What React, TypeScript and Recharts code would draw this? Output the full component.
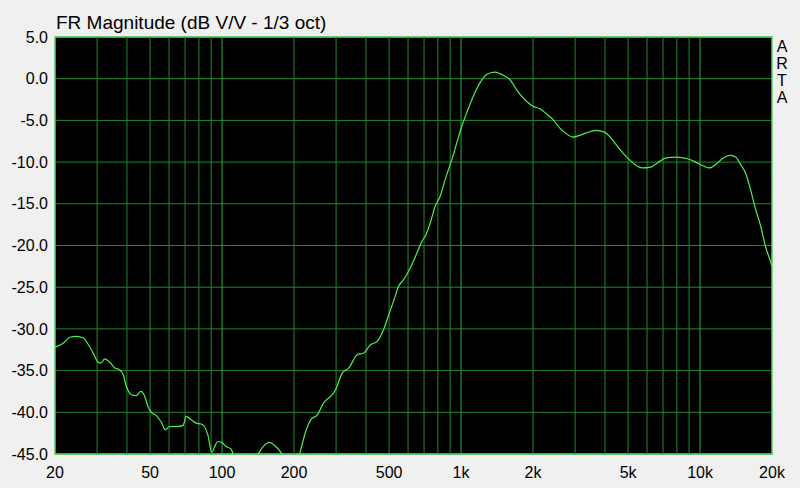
import React from 'react';
import { LineChart, Line, XAxis, YAxis, CartesianGrid, ReferenceLine, ReferenceArea } from 'recharts';

const freqs: number[] = [
  20, 21.7, 23.1, 24.6, 26.3, 27.6, 28.9, 30.3, 31.1, 32.3, 33.9, 35.6, 37.3, 38.6, 39.8,
  41.8, 43.8, 45.7, 47.5, 49.0, 50.6, 53.1, 55.7, 57.9, 60.3, 64.3, 68.6, 70.8, 74.3, 77.9,
  81.7, 84.4, 87.2, 90.6, 92.9, 95.9, 99.7, 103.9, 109, 112, 122, 135, 143, 150, 157.4,
  167.9, 176.2, 182, 195, 208, 212, 223.9, 234.9, 250.4, 266.8, 284.6, 298.5, 318.3, 339,
  367.6, 391.7, 417.6, 445.5, 475, 500, 525.8, 548, 574.9, 613, 653.7, 686, 707.9, 743,
  779.4, 817.6, 857.7, 914.9, 959.6, 1007, 1056, 1125, 1200, 1279, 1386, 1525, 1600, 1706,
  1878, 2001, 2134, 2276, 2427, 2585, 2756, 2938, 3133, 3340, 3675, 3981, 4176, 4454, 4750,
  5061, 5397, 5751, 6232, 6637, 7194, 7918, 8855, 9600, 10223, 10901, 11627, 12388, 13428,
  14093, 14778, 15508, 16263, 17061, 17906, 18778, 19708, 20000,
];

const magnitudeDb: number[] = [
  -32.2, -31.7, -31.0, -30.9, -31.1, -31.9, -32.9, -34.0, -34.1, -33.6, -34.0, -34.7, -34.9, -35.5, -36.9,
  -37.9, -38.0, -37.5, -38.1, -39.3, -40.0, -40.4, -41.2, -42.1, -41.7, -41.7, -41.6, -40.5, -40.9, -41.3,
  -41.4, -41.7, -42.7, -44.8, -44.2, -43.5, -43.6, -44.1, -44.4, -45.2, -46.5, -46.0, -44.8, -44.0, -43.6,
  -44.1, -44.8, -45.5, -46.5, -45.6, -44.8, -42.3, -40.9, -40.3, -38.8, -38.1, -37.3, -35.3, -34.7,
  -33.1, -32.9, -31.9, -31.5, -30.0, -28.2, -26.4, -24.9, -24.1, -22.7, -20.9, -19.5, -18.9, -17.3,
  -15.3, -14.1, -12.1, -9.7, -7.7, -5.7, -4.1, -2.1, -0.5, 0.5, 0.8, 0.3, -0.1, -1.3,
  -2.7, -3.3, -3.6, -4.2, -4.9, -5.9, -6.6, -7.0, -6.8, -6.5, -6.2, -6.4, -6.9, -7.9, -8.9,
  -9.7, -10.4, -10.7, -10.6, -10.1, -9.5, -9.4, -9.6, -10.0, -10.4, -10.7, -10.3, -9.6, -9.2,
  -9.4, -10.3, -11.3, -13.3, -15.6, -17.6, -20.1, -21.9, -22.5,
];

const xTicks: number[] = [20, 50, 100, 200, 500, 1000, 2000, 5000, 10000, 20000];
const yTicks: number[] = [-45, -40, -35, -30, -25, -20, -15, -10, -5, 0, 5];
const gridFreqs: number[] = [
  30, 40, 50, 60, 70, 80, 90, 100,
  200, 300, 400, 500, 600, 700, 800, 900, 1000,
  2000, 3000, 4000, 5000, 6000, 7000, 8000, 9000, 10000,
];
const decadeFreqs: number[] = [100, 1000, 10000];

const data = freqs.map((f, i) => ({ f, db: magnitudeDb[i] }));

const FONT = '"Liberation Sans", Arial, sans-serif';
const GRID = '#1f8a2a';
const GRID_MAJOR = '#2fa83a';

const fmtX = (v: number) => (v >= 1000 ? `${v / 1000}k` : `${v}`);
const fmtY = (v: number) => v.toFixed(1);

export default function App() {
  return (
    <div style={{ position: 'absolute', left: 0, top: 0, width: 800, height: 488, background: '#f0f0f0', fontFamily: FONT }}>
      <div style={{ position: 'absolute', left: 56, top: 13, fontSize: 19, lineHeight: '19px', color: '#000', whiteSpace: 'nowrap' }}>
        FR Magnitude (dB V/V - 1/3 oct)
      </div>
      <div style={{ position: 'absolute', left: 774, top: 38, width: 16, textAlign: 'center', fontSize: 16, lineHeight: '17px', color: '#000' }}>
        A<br />R<br />T<br />A
      </div>
      <LineChart width={800} height={488} data={data} margin={{ top: 37, right: 28, left: 0, bottom: 0 }} style={{ position: 'absolute', left: 0, top: 0 }}>
        <CartesianGrid vertical={false} fill="#000000" stroke={GRID} strokeWidth={1} />
        <XAxis
          dataKey="f"
          type="number"
          scale="log"
          domain={[20, 20000]}
          ticks={xTicks}
          tickFormatter={fmtX}
          interval={0}
          height={34}
          tickSize={0}
          tickMargin={13}
          axisLine={false}
          tickLine={false}
          allowDataOverflow
          tick={{ fill: '#000', fontSize: 16, fontFamily: FONT }}
        />
        <YAxis
          type="number"
          domain={[-45, 5]}
          ticks={yTicks}
          tickFormatter={fmtY}
          interval={0}
          width={55}
          tickSize={0}
          tickMargin={7}
          axisLine={false}
          tickLine={false}
          allowDataOverflow
          tick={{ fill: '#000', fontSize: 16, fontFamily: FONT }}
        />
        {gridFreqs.map((g) => (
          <ReferenceLine key={g} x={g} stroke={decadeFreqs.includes(g) ? GRID_MAJOR : GRID} strokeWidth={1} />
        ))}
        <ReferenceArea x1={20} x2={20000} y1={-45} y2={5} fill="none" stroke="#55d060" strokeWidth={1.5} />
        <Line
          dataKey="db"
          type="monotone"
          stroke="#4cf04c"
          strokeWidth={1.2}
          dot={false}
          isAnimationActive={false}
        />
      </LineChart>
    </div>
  );
}
